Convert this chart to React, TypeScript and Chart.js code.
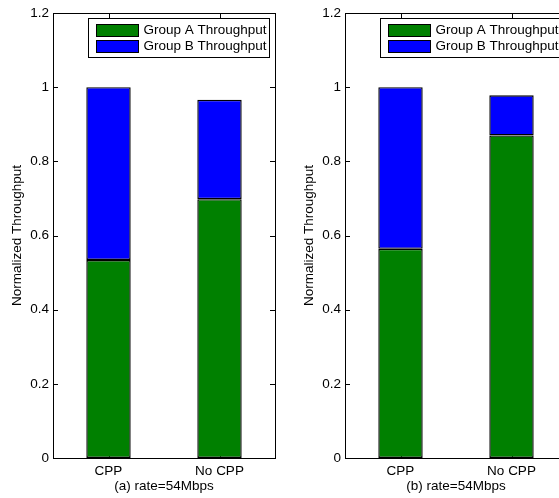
import React, { useEffect, useRef } from 'react';
import { Chart, registerables } from 'chart.js';

Chart.register(...registerables);

const categories = ['CPP', 'No CPP'];
const seriesNames = ['Group A Throughput', 'Group B Throughput'];
const seriesColors = ['#008000', '#0000FF'];
const groupA_a = [0.534, 0.698];
const groupB_a = [0.466, 0.268];
const groupA_b = [0.564, 0.87];
const groupB_b = [0.436, 0.108];
const yTicks = [0, 0.2, 0.4, 0.6, 0.8, 1, 1.2];
const yTickLabels = ['0', '0.2', '0.4', '0.6', '0.8', '1', '1.2'];
const subtitles = ['(a) rate=54Mbps', '(b) rate=54Mbps'];
const yTitle = 'Normalized Throughput';

const FONT = '"Liberation Sans", Arial, Helvetica, sans-serif';
const FS = 13.5;

const tickPlugin = {
  id: 'matlabTicks',
  beforeDatasetsDraw(chart: any) {
    const { ctx, chartArea } = chart;
    const { left, right, top, bottom } = chartArea;
    const ys = chart.scales.y;
    const xs = chart.scales.x;
    ctx.save();
    ctx.strokeStyle = '#000';
    ctx.lineWidth = 1;
    ctx.beginPath();
    yTicks.forEach((v) => {
      const py = Math.round(ys.getPixelForValue(v)) + 0.5;
      ctx.moveTo(left, py);
      ctx.lineTo(left + 5, py);
      ctx.moveTo(right, py);
      ctx.lineTo(right - 5, py);
    });
    categories.forEach((_c, i) => {
      const px = Math.round(xs.getPixelForValue(i)) + 0.5;
      ctx.moveTo(px, top);
      ctx.lineTo(px, top + 5);
      ctx.moveTo(px, bottom);
      ctx.lineTo(px, bottom - 5);
    });
    ctx.stroke();
    ctx.restore();
  },
  afterDatasetsDraw(chart: any) {
    const { ctx, chartArea } = chart;
    const { left, right, top, bottom } = chartArea;
    ctx.save();
    ctx.strokeStyle = '#000';
    ctx.lineWidth = 1;
    ctx.strokeRect(Math.round(left) + 0.5, Math.round(top) + 0.5, Math.round(right - left), Math.round(bottom - top));
    // legend
    const bl = Math.round(left + 35) + 0.5;
    const br = Math.round(right - 6) + 0.5;
    const bt = Math.round(top + 5) + 0.5;
    const bh = 39;
    ctx.fillStyle = '#fff';
    ctx.fillRect(bl, bt, br - bl, bh);
    ctx.strokeRect(bl, bt, br - bl, bh);
    const centers = [bt + 11.5, bt + 27.5];
    chart.data.datasets.forEach((ds: any, i: number) => {
      const cy = centers[i];
      ctx.fillStyle = ds.backgroundColor;
      const sx = bl + 8;
      const sy = Math.round(cy - 6) + 0.5;
      ctx.fillRect(sx, sy, 42, 12);
      ctx.strokeRect(sx, sy, 42, 12);
      ctx.fillStyle = '#000';
      ctx.font = `13.5px ${FONT}`;
      ctx.textBaseline = 'middle';
      ctx.textAlign = 'left';
      ctx.fillText(ds.label, bl + 55, cy + 0.5);
    });
    ctx.restore();
  },
};

function makeConfig(a: number[], b: number[], subtitle: string): any {
  const barStyle = {
    borderColor: '#000000',
    borderWidth: 1.4,
    borderSkipped: false,
    categoryPercentage: 1,
    barPercentage: 0.4,
  };
  return {
    type: 'bar',
    data: {
      labels: categories,
      datasets: [
        { label: seriesNames[0], data: a, backgroundColor: seriesColors[0], ...barStyle },
        { label: seriesNames[1], data: b, backgroundColor: seriesColors[1], ...barStyle },
      ],
    },
    options: {
      responsive: false,
      animation: false,
      devicePixelRatio: 1,
      layout: { padding: { left: 0, top: 13, right: 5, bottom: 0 } },
      plugins: { legend: { display: false }, tooltip: { enabled: false } },
      scales: {
        x: {
          stacked: true,
          grid: { display: false, drawTicks: false },
          border: { display: false },
          ticks: { color: '#000', font: { family: FONT, size: FS }, padding: 5, maxRotation: 0 },
          title: { display: true, text: subtitle, color: '#000', font: { family: FONT, size: FS }, padding: { top: 0, bottom: 4 } },
          afterFit(scale: any) {
            scale.height = 40;
          },
        },
        y: {
          stacked: true,
          min: 0,
          max: 1.2,
          grid: { display: false, drawTicks: false },
          border: { display: false },
          afterBuildTicks(scale: any) {
            scale.ticks = yTicks.map((v) => ({ value: v }));
          },
          ticks: {
            color: '#000',
            font: { family: FONT, size: FS },
            padding: 4,
            callback: (_v: any, i: number) => yTickLabels[i],
          },
          title: { display: true, text: yTitle, color: '#000', font: { family: FONT, size: FS }, padding: { top: 9, bottom: 0 } },
          afterFit(scale: any) {
            scale.width = 53;
          },
        },
      },
    },
    plugins: [tickPlugin],
  };
}

function Panel({ a, b, subtitle, left }: { a: number[]; b: number[]; subtitle: string; left: number }) {
  const ref = useRef<HTMLCanvasElement>(null);
  useEffect(() => {
    if (!ref.current) return;
    const chart = new Chart(ref.current, makeConfig(a, b, subtitle));
    return () => chart.destroy();
  }, [a, b, subtitle]);
  return (
    <canvas
      ref={ref}
      width={280}
      height={498}
      style={{ position: 'absolute', left, top: 0, width: 280, height: 498 }}
    />
  );
}

export default function App() {
  return (
    <div
      style={{
        position: 'absolute',
        left: 0,
        top: 0,
        width: 559,
        height: 498,
        overflow: 'hidden',
        background: '#fff',
      }}
    >
      <Panel a={groupA_a} b={groupB_a} subtitle={subtitles[0]} left={0} />
      <Panel a={groupA_b} b={groupB_b} subtitle={subtitles[1]} left={292} />
    </div>
  );
}
